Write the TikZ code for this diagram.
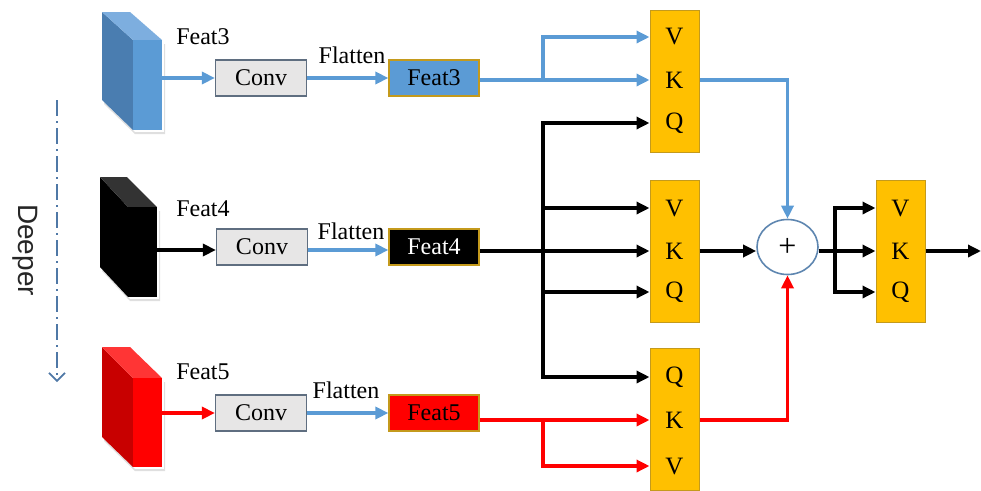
\documentclass[tikz,border=0pt]{standalone}
\usepackage{fontspec}
\setmainfont{Liberation Serif}
\newfontfamily\serfont{Liberation Serif}
\newfontfamily\deepfont{Liberation Sans}
\usetikzlibrary{arrows.meta,shapes.geometric}
\definecolor{lblue}{HTML}{5B9BD5}
\definecolor{sblue}{HTML}{4A7DB0}
\definecolor{tblue}{HTML}{7DAEDF}
\definecolor{gold}{HTML}{FFC000}
\definecolor{goldb}{HTML}{C49A1C}
\definecolor{convfill}{HTML}{E7E6E6}
\definecolor{convb}{HTML}{5F6E80}
\definecolor{rred}{HTML}{FF0000}
\definecolor{dred}{HTML}{C80000}
\definecolor{tred}{HTML}{FF3535}
\definecolor{deepc}{HTML}{4F78A6}
\definecolor{circb}{HTML}{5E86B0}
\tikzset{
  txt/.style={font=\serfont\fontsize{24}{24}\selectfont, inner sep=0pt},
  convbox/.style={draw=convb, line width=1.2pt, fill=convfill, minimum width=91pt, minimum height=36pt, inner sep=0pt, font=\serfont\fontsize{24}{24}\selectfont},
  featbox/.style={draw=goldb, line width=1.2pt, minimum width=90pt, minimum height=36pt, inner sep=0pt, font=\serfont\fontsize{24}{24}\selectfont},
  qkvbox/.style={draw=goldb, line width=1pt, fill=gold, minimum width=49pt, minimum height=142pt, inner sep=0pt},
  letter/.style={font=\serfont\fontsize{25}{25}\selectfont, inner sep=0pt},
  tip/.style={-{Triangle[length=13pt,width=12pt]}},
  bline/.style={draw=lblue, line width=3.4pt},
  kline/.style={draw=black, line width=3.6pt},
  rline/.style={draw=rred, line width=3.4pt},
}
\begin{document}
\begin{tikzpicture}[x=1pt,y=-1pt]
\useasboundingbox (0,0) rectangle (981,490);

% ---------- slabs ----------
% shadows
\fill[black!25, opacity=0.5] (104,104) -- (135,134) -- (165,134) -- (165,44) -- (164,44) -- (164,132) -- (135,132) -- (104,102) -- cycle;
\fill[black!25, opacity=0.5] (102,271) -- (130,301) -- (160,301) -- (160,211) -- (159,211) -- (159,299) -- (130,299) -- (102,269) -- cycle;
\fill[black!25, opacity=0.5] (104,441) -- (135,471) -- (165,471) -- (165,382) -- (164,382) -- (164,469) -- (135,469) -- (104,439) -- cycle;
% blue
\fill[sblue] (102,12) -- (133,40) -- (133,130) -- (102,100) -- cycle;
\fill[tblue] (102,12) -- (130,12) -- (162,40) -- (133,40) -- cycle;
\fill[lblue] (133,40) rectangle (162,130);
% black
\fill[black] (100,177) -- (128,207) -- (128,297) -- (100,267) -- cycle;
\fill[black!80] (100,177) -- (127,177) -- (157,207) -- (128,207) -- cycle;
\fill[black] (128,207) rectangle (157,297);
% red
\fill[dred] (102,347) -- (133,378) -- (133,467) -- (102,437) -- cycle;
\fill[tred] (102,347) -- (130,347) -- (162,378) -- (133,378) -- cycle;
\fill[rred] (133,378) rectangle (162,467);

\coordinate (s3) at (162,78);
\coordinate (s4) at (157,250);
\coordinate (s5) at (162,413);

% ---------- labels ----------
\node[txt] (l3) at (203,37) {Feat3};
\node[txt] (l4) at (203,209) {Feat4};
\node[txt] (l5) at (203,372) {Feat5};
\node[txt] (fl3) at (352,55) {Flatten};
\node[txt] (fl4) at (351,231) {Flatten};
\node[txt] (fl5) at (346,390) {Flatten};

% ---------- deeper ----------
\node[rotate=-90, inner sep=0pt, text=black!85, font=\deepfont\fontsize{28}{28}\selectfont] (deep) at (25,250) {Deeper};
\coordinate (d1) at (57,100);
\coordinate (d2) at (57,382);
\draw[deepc, line width=1.6pt, dash pattern=on 16pt off 5pt on 2pt off 5pt, -{Straight Barb[length=8pt,width=16pt,line width=1.6pt]}] (d1) -- (d2);

% ---------- conv / feat boxes ----------
\node[convbox] (c3) at (261,78) {Conv};
\node[convbox] (c4) at (262,247) {Conv};
\node[convbox] (c5) at (261,413) {Conv};
\node[featbox, fill=lblue] (f3) at (434,78) {Feat3};
\node[featbox, fill=black, text=white] (f4) at (434,247) {Feat4};
\node[featbox, fill=rred] (f5) at (434,413) {Feat5};

% ---------- QKV boxes ----------
\node[qkvbox] (A) at (674.5,81) {};
\node[letter] (Av) at (674.5,37) {V};
\node[letter] (Ak) at (674.5,80) {K};
\node[letter] (Aq) at (674.5,123) {Q};

\node[qkvbox] (B) at (674.5,251) {};
\node[letter] (Bv) at (674.5,208) {V};
\node[letter] (Bk) at (674.5,251) {K};
\node[letter] (Bq) at (674.5,292) {Q};

\node[qkvbox] (C) at (674.5,419) {};
\node[letter] (Cq) at (674.5,377) {Q};
\node[letter] (Ck) at (674.5,420) {K};
\node[letter] (Cv) at (674.5,466) {V};

\node[qkvbox] (D) at (900.5,251) {};
\node[letter] (Dv) at (900.5,208) {V};
\node[letter] (Dk) at (900.5,251) {K};
\node[letter] (Dq) at (900.5,292) {Q};

% ---------- plus ----------
\node[ellipse, draw=circb, line width=1.6pt, fill=white, minimum width=61pt, minimum height=55pt, inner sep=0pt, font=\serfont\fontsize{32}{32}\selectfont] (P) at (787.5,247) {+};

% ---------- connectors ----------
\draw[bline, tip] (s3) -- (c3.west);
\draw[kline, tip] (s4) -- (c4.west |- s4);
\draw[rline, tip] (s5) -- (c5.west);

\draw[bline, tip] (c3.east) -- (f3.west);
\draw[bline, tip] (c4.east |- s4) -- (f4.west |- s4);
\draw[bline, tip] (c5.east) -- (f5.west);

% blue
\coordinate (jb) at (543,80);
\draw[bline, tip] (f3.east |- Ak) -- (A.west |- Ak);
\draw[bline, tip] (jb) |- (A.west |- Av);
\draw[bline, tip] (A.east |- Ak) -| (P.north);

% black
\coordinate (jk) at (543,251);
\coordinate (jkt) at (543,123);
\coordinate (jkb) at (543,377);
\draw[kline, tip] (f4.east |- Bk) -- (B.west |- Bk);
\draw[kline, tip] (jk) -- (jkt) -- (A.west |- Aq);
\draw[kline, tip] (jk) -- (jkb) -- (C.west |- Cq);
\draw[kline, tip] (jk |- Bv) -- (B.west |- Bv);
\draw[kline, tip] (jk |- Bq) -- (B.west |- Bq);
\draw[kline, tip] (B.east |- Bk) -- (P.west |- Bk);

% red
\coordinate (jr) at (543,420);
\draw[rline, tip] (f5.east |- Ck) -- (C.west |- Ck);
\draw[rline, tip] (jr) |- (C.west |- Cv);
\draw[rline, tip] (C.east |- Ck) -| (P.south);

% right
\coordinate (jo) at (835,251);
\coordinate (out) at (981,251);
\draw[kline] (P.east |- Dk) -- (jo);
\draw[kline, tip] (jo) -- (D.west |- Dk);
\draw[kline, tip] (jo) |- (D.west |- Dv);
\draw[kline, tip] (jo) |- (D.west |- Dq);
\draw[kline, tip] (D.east |- Dk) -- (out);
\end{tikzpicture}
\end{document}
